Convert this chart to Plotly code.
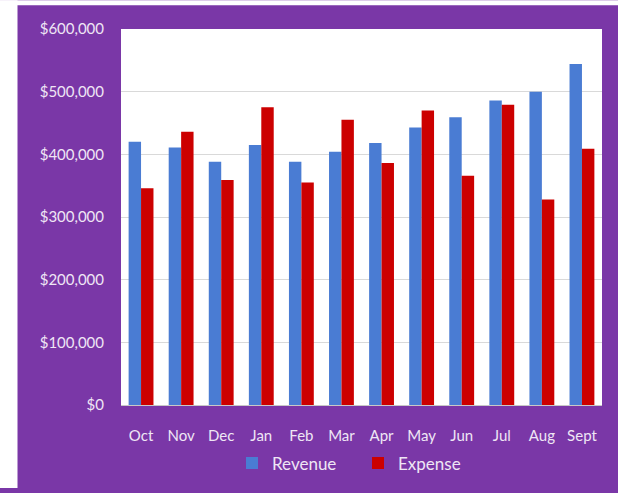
import plotly.graph_objects as go

months = ["Oct", "Nov", "Dec", "Jan", "Feb", "Mar", "Apr", "May", "Jun", "Jul", "Aug", "Sept"]
revenue = [420000, 411000, 388000, 415000, 388000, 404000, 418000, 443000, 459000, 486000, 500000, 544000]
expense = [346000, 436000, 359000, 475000, 355000, 455000, 386000, 470000, 366000, 479000, 328000, 409000]
y_ticks = [0, 100000, 200000, 300000, 400000, 500000, 600000]
y_tick_text = ["$0", "$100,000", "$200,000", "$300,000", "$400,000", "$500,000", "$600,000"]

W, H = 618, 493
PL, PR, PT, PB = 121, 602, 29, 409  # plot area pixel bounds
pw, ph = PR - PL, PB - PT

def px_x(p):
    return (p - PL) / pw

def px_y(p):
    return (PB - p) / ph

PURPLE = "#7A37A7"
TXT = "#EFE6F5"
FONT = "Lato, 'Open Sans', sans-serif"

fig = go.Figure()
fig.add_trace(go.Bar(x=months, y=revenue, name="Revenue", marker=dict(color="#4A7CD3", line=dict(width=0))))
fig.add_trace(go.Bar(x=months, y=expense, name="Expense", marker=dict(color="#CC0000", line=dict(width=0))))

fig.update_layout(
    width=W, height=H,
    margin=dict(l=PL, r=W - PR, t=PT, b=H - PB, pad=0),
    paper_bgcolor=PURPLE,
    plot_bgcolor="white",
    barmode="group",
    bargap=0.38,
    bargroupgap=0,
    font=dict(family=FONT, color=TXT, size=15),
    showlegend=True,
    legend=dict(
        orientation="h",
        x=px_x(232), xanchor="left",
        y=px_y(468), yanchor="middle",
        font=dict(size=17, color=TXT, family=FONT),
        bgcolor="rgba(0,0,0,0)",
        entrywidth=81,
        entrywidthmode="pixels",
        itemclick=False,
    ),
    xaxis=dict(
        showgrid=False, showline=True, linecolor="#C8C8C8", linewidth=1,
        ticks="", ticklabelstandoff=17,
        tickfont=dict(size=15, color=TXT, family=FONT),
    ),
    yaxis=dict(
        range=[0, 600000], tickvals=y_ticks, ticktext=y_tick_text,
        showgrid=True, gridcolor="#D9D9D9", gridwidth=1,
        zeroline=False, showline=False, ticks="",
        ticklabelstandoff=16,
        tickfont=dict(size=15, color=TXT, family=FONT),
    ),
    shapes=[
        dict(type="rect", xref="paper", yref="paper",
             x0=px_x(0), x1=px_x(17.5), y0=px_y(H), y1=px_y(0),
             fillcolor="white", line=dict(width=0), layer="above"),
        dict(type="rect", xref="paper", yref="paper",
             x0=px_x(0), x1=px_x(W), y0=px_y(5), y1=px_y(0),
             fillcolor="white", line=dict(width=0), layer="above"),
    ],
)

post = """
var css = 'margin:0;padding:0;overflow:hidden;background:#7A37A7;';
document.documentElement.style.cssText = css;
document.body.style.cssText = css;
var gd = document.getElementById('{plot_id}');
gd.style.position = 'fixed';
gd.style.left = '0px';
gd.style.top = '0px';
"""

fig.write_html(
    "out.html",
    config={"displayModeBar": False},
    post_script=post,
)
